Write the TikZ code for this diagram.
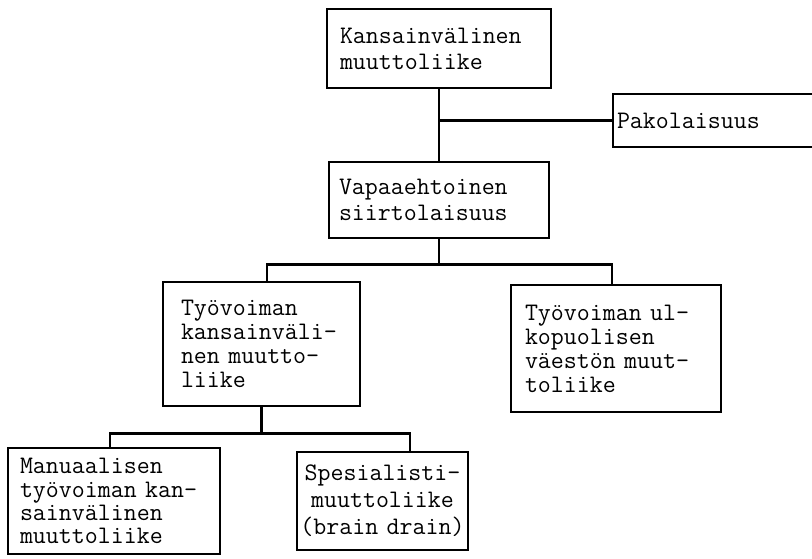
\documentclass[tikz,border=0pt]{standalone}
\usepackage{fontspec}
\tikzset{
  laatikko/.style={draw,line width=1.4pt,inner ysep=0pt,align=left,
    font=\ttfamily\fontsize{12.6}{12}\selectfont},
  viiva/.style={line width=1.4pt}
}
\begin{document}
\begin{tikzpicture}[x=0.5pt,y=-0.5pt]
    % kuva pikseleinä, y alaspäin
    \clip (0,0) rectangle (812,558);
    \node (kv) at (439,48.5) [laatikko,inner xsep=6.5pt,text width=99pt,minimum height=39.5pt,
        font=\ttfamily\fontsize{12.6}{13}\selectfont] {Kansainvälinen\\muuttoliike};
    \node (pako) at (723,120.5) [laatikko,inner xsep=2pt,text width=106pt,minimum height=26.5pt] {Pakolaisuus};
    \node (vapaa) at (439,200) [laatikko,inner xsep=5pt,text width=100pt,minimum height=38pt,
        font=\ttfamily\fontsize{12.6}{13}\selectfont] {Vapaaehtoinen\\siirtolaisuus};
    \node (tyo) at (261.5,344) [laatikko,inner xsep=9pt,text width=80.5pt,minimum height=62pt] {Työvoiman\\kansainväli-\\nen muutto-\\liike};
    \node (ulko) at (616,348.5) [laatikko,inner xsep=7pt,text width=91pt,minimum height=63.5pt] {Työvoiman ul-\\kopuolisen\\väestön muut-\\toliike};
    \node (manu) at (114,501) [laatikko,inner xsep=6pt,text width=94pt,minimum height=53pt,
        font=\ttfamily\fontsize{12.6}{11.6}\selectfont] {Manuaalisen\\työvoiman kan-\\sainvälinen\\muuttoliike};
    \node (spes) at (382.5,501) [laatikko,inner xsep=0pt,text width=85.5pt,minimum height=49pt,align=center,
        font=\ttfamily\fontsize{12.6}{13.5}\selectfont] {Spesialisti-\\muuttoliike\\(brain drain)};

    \coordinate (h1) at (439,120.5);
    \draw [viiva] (kv) -- (vapaa);
    \draw [viiva] (h1) -- (pako);

    \path (vapaa.south) ++(0,25) coordinate (h2);
    \draw [viiva] (vapaa.south) -- (h2);
    \draw [viiva] (h2) -| ([xshift=2.75pt]tyo.north);
    \draw [viiva] (h2) -| ([xshift=-2pt]ulko.north);

    \path (tyo.south) ++(0,26) coordinate (h3);
    \draw [viiva] (tyo.south) -- (h3);
    \draw [viiva] (h3) -| ([xshift=-2pt]manu.north);
    \draw [viiva] (h3) -| ([xshift=13.75pt]spes.north);
\end{tikzpicture}
\end{document}
